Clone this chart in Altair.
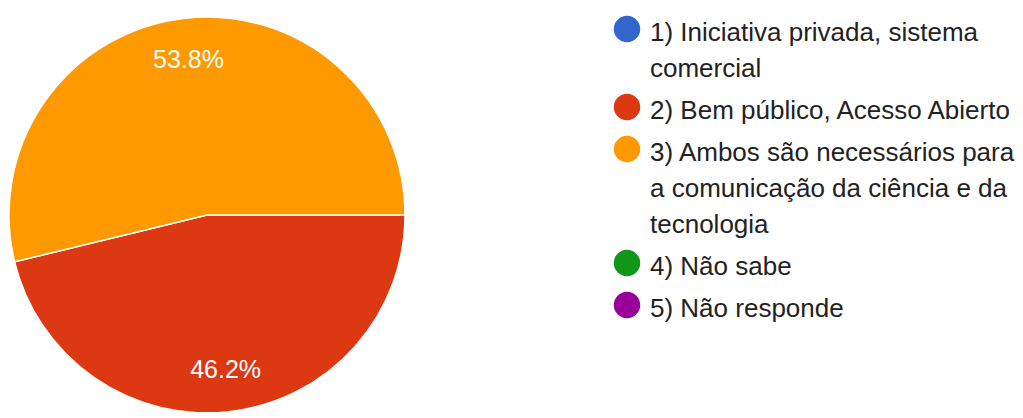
import math
import textwrap
import altair as alt
import pandas as pd

categories = [
    "1) Iniciativa privada, sistema comercial",
    "2) Bem público, Acesso Abierto",
    "3) Ambos são necessários para a comunicação da ciência e da tecnologia",
    "4) Não sabe",
    "5) Não responde",
]
percentages = [0.0, 46.2, 53.8, 0.0, 0.0]
colors = ["#3366cc", "#dc3912", "#ff9900", "#109618", "#990099"]

df = pd.DataFrame({"category": categories, "value": percentages,
                   "idx": list(range(len(categories)))})

# legend table: wrapped label lines, each with a slot (line count + extra gap per entry)
ENTRY_GAP = 6 / 36
rows = []
k = 0
for e, c in enumerate(categories):
    for j, line in enumerate(textwrap.wrap(c, width=30)):
        rows.append({"category": c, "line": line, "first": j == 0,
                     "slot": k + e * ENTRY_GAP})
        k += 1
leg = pd.DataFrame(rows)

FONT = "Liberation Sans"

color_scale = alt.Scale(domain=categories, range=colors)
theta = alt.Theta("value:Q", stack=True,
                  scale=alt.Scale(range=[math.pi / 2, math.pi / 2 + 2 * math.pi]))

base = alt.Chart(df).transform_filter("datum.value > 0").encode(
    theta=theta,
    order=alt.Order("idx:Q"),
)

CX, CY = 199, 207

pie = base.mark_arc(outerRadius=198, stroke="white", strokeWidth=1.5).encode(
    color=alt.Color("category:N", scale=color_scale, legend=None),
    x=alt.value(CX),
    y=alt.value(CY),
)

labels = base.transform_calculate(
    label="format(datum.value, '.1f') + '%'"
).mark_text(font=FONT, fontSize=25, color="white", radius=156).encode(
    text="label:N",
    x=alt.value(CX),
    y=alt.value(CY),
)

yscale = alt.Scale(domain=[0, 1], range=[33, 69])

leg_text = alt.Chart(leg).mark_text(
    font=FONT, fontSize=26, color="#222222", align="left", baseline="alphabetic"
).encode(
    x=alt.value(642),
    y=alt.Y("slot:Q", scale=yscale, axis=None),
    text="line:N",
)

leg_sym = alt.Chart(leg).transform_filter("datum.first").mark_point(
    shape="circle", filled=True, size=700, opacity=1, yOffset=-12
).encode(
    x=alt.value(619),
    y=alt.Y("slot:Q", scale=yscale, axis=None),
    color=alt.Color("category:N", scale=color_scale, legend=None),
)

chart = alt.layer(pie, labels, leg_sym, leg_text).properties(
    width=1007,
    height=404,
    autosize=alt.AutoSizeParams(type="none"),
    padding=0,
).configure_view(stroke=None)

chart.save("out.html", embed_options={"renderer": "svg", "actions": False})
